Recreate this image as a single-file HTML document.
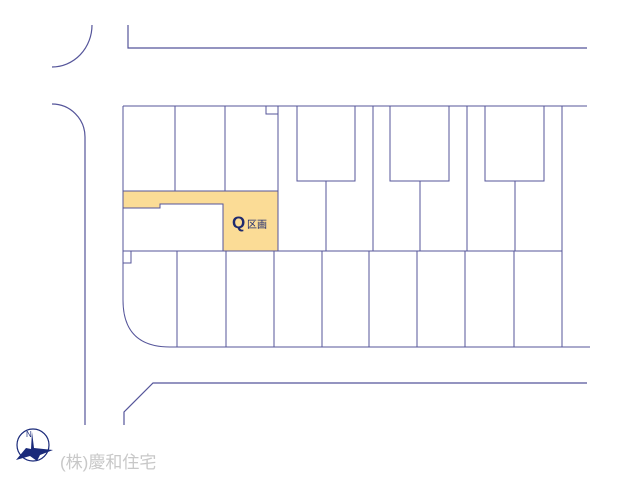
<!DOCTYPE html>
<html><head><meta charset="utf-8"><style>
body{margin:0;background:#fff;width:640px;height:480px;overflow:hidden}
</style></head><body>
<svg width="640" height="480" viewBox="0 0 640 480" xmlns="http://www.w3.org/2000/svg">
<g fill="none" stroke="#55559a" stroke-width="1.2">
<path d="M92 25 A40 42 0 0 1 52 67"/>
<path d="M128 25 L128 48 L587 48"/>
<path d="M52 104 A33 33 0 0 1 85 137 L85 425"/>
<path d="M124 425 L124 412 L153 383 L587 383"/>
</g>
<path d="M123 191 L278 191 L278 251 L223 251 L223 204 L160 204 L160 208 L123 208 Z" fill="#fbdc96" stroke="#55559a" stroke-width="1"/>
<g fill="none" stroke="#55559a" stroke-width="1">
<path d="M123 106 L587 106"/>
<path d="M123 106 L123 300 Q123 347 170 347 L590 347"/>
<path d="M123 251 L562 251"/>
<path d="M123 191 L278 191"/>
<path d="M175 106 V191 M225 106 V191 M278 106 V251"/>
<path d="M266 106 V114 H278"/>
<path d="M123 263 H131 V251"/>
<path d="M297 106 V181 H355 V106 M326 181 V251"/>
<path d="M390 106 V181 H449 V106 M420 181 V251"/>
<path d="M485 106 V181 H544 V106 M515 181 V251"/>
<path d="M373 106 V251 M467 106 V251 M562 106 V347"/>
<path d="M177 251 V347 M226 251 V347 M274 251 V347 M322 251 V347 M369 251 V347 M417 251 V347 M465 251 V347 M514 251 V347"/>
</g>
<text x="232" y="228" font-family="Liberation Sans, sans-serif" font-size="17" font-weight="bold" fill="#1e2a6e">Q</text>
<text x="247" y="228" font-family="Liberation Sans, Noto Sans CJK JP, sans-serif" font-size="10" fill="#1e2a6e">区画</text>
<g>
<circle cx="33" cy="445" r="16" fill="none" stroke="#1a2a7a" stroke-width="1.2"/>
<path d="M16 460 L26 448 L31 449 L32 432 L34 448 L53 450 L40 455 L37 461 L30 456 Z" fill="#1a2a7a"/>
<text x="26" y="437" font-family="Liberation Sans, sans-serif" font-size="8" fill="#1a2a7a">N</text>
</g>
<text x="60" y="468" font-family="Liberation Sans, Noto Sans CJK JP, sans-serif" font-size="17" fill="#c8c8c8">(株)慶和住宅</text>
</svg>
</body></html>
